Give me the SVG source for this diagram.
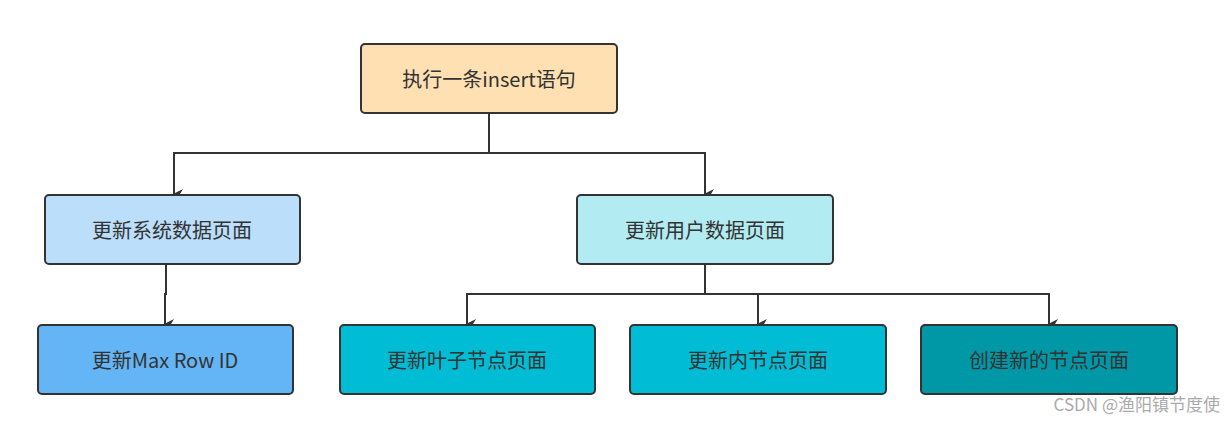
<svg xmlns="http://www.w3.org/2000/svg" width="1224" height="430" viewBox="0 0 1224 430">
<style>
.n{stroke:#333;stroke-width:2}
.t{font-family:"Noto Sans CJK SC","Noto Sans",sans-serif;font-size:20px;fill:#333;text-anchor:middle;dominant-baseline:central}
.c{fill:none;stroke:#333;stroke-width:2}
</style>
<defs><marker id="a" markerWidth="10" markerHeight="10" refX="5" refY="9" orient="auto" markerUnits="userSpaceOnUse" viewBox="0 0 10 10"><path d="M0,0 L5,10 L10,0 L5,3 Z" fill="#333"/></marker></defs>
<rect width="1224" height="430" fill="#fff"/>
<g id="connectors">
<path class="c" d="M489,113 V153 H174 V194" marker-end="url(#a)"/>
<path class="c" d="M489,153 H705 V194" marker-end="url(#a)"/>
<path class="c" d="M166,264 V294 H165 V324" marker-end="url(#a)"/>
<path class="c" d="M705,264 V294 H467 V324" marker-end="url(#a)"/>
<path class="c" d="M705,294 H758 V324" marker-end="url(#a)"/>
<path class="c" d="M705,294 H1049 V324" marker-end="url(#a)"/>
</g>
<g id="n1"><rect class="n" x="361" y="44" width="256" height="69" rx="4" fill="#FFE0B2"/><text class="t" x="489" y="78">执行一条insert语句</text></g>
<g id="n2"><rect class="n" x="45" y="195" width="255" height="69" rx="4" fill="#BBDEFB"/><text class="t" x="172" y="229">更新系统数据页面</text></g>
<g id="n3"><rect class="n" x="577" y="195" width="256" height="69" rx="4" fill="#B2EBF2"/><text class="t" x="705" y="229">更新用户数据页面</text></g>
<g id="n4"><rect class="n" x="38" y="325" width="255" height="69" rx="4" fill="#64B5F6"/><text class="t" x="165" y="359">更新Max Row ID</text></g>
<g id="n5"><rect class="n" x="340" y="325" width="255" height="69" rx="4" fill="#00BCD4"/><text class="t" x="467" y="359">更新叶子节点页面</text></g>
<g id="n6"><rect class="n" x="630" y="325" width="256" height="69" rx="4" fill="#00BCD4"/><text class="t" x="758" y="359">更新内节点页面</text></g>
<g id="n7"><rect class="n" x="921" y="325" width="256" height="69" rx="4" fill="#0097A7"/><text class="t" x="1049" y="359">创建新的节点页面</text></g>
<text x="1220" y="411" font-family="Noto Sans CJK SC,sans-serif" font-size="17" fill="#aaa" text-anchor="end">CSDN @渔阳镇节度使</text>
</svg>
